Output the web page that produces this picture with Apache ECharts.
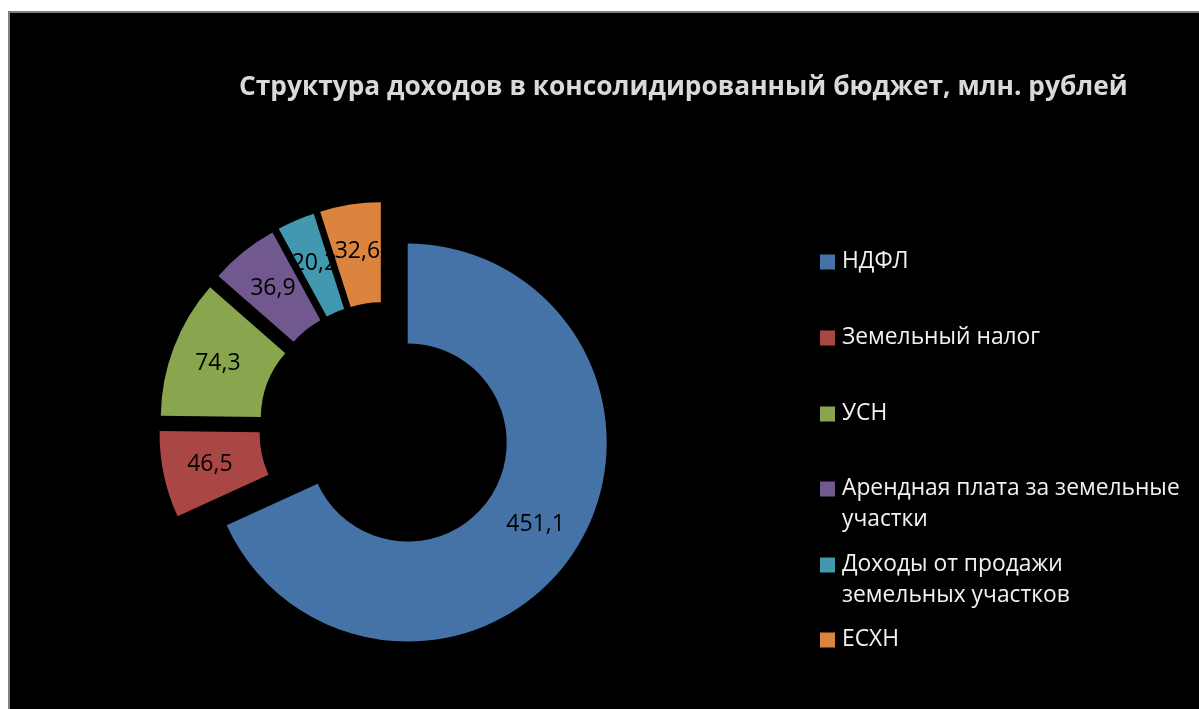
<!DOCTYPE html>
<html>
<head>
<meta charset="utf-8">
<script src="https://cdn.jsdelivr.net/npm/echarts@6/dist/echarts.min.js"></script>
<style>
  html, body { margin: 0; padding: 0; background: #ffffff; width: 1199px; height: 709px; overflow: hidden; }
  #frame { position: absolute; left: 8px; top: 11px; width: 1200px; height: 710px; border-left: 2px solid #808080; border-top: 2px solid #808080; background: #000; }
  #chart { position: absolute; left: 0; top: 0; width: 1189px; height: 696px; }
</style>
</head>
<body>
<div id="frame"><div id="chart"></div></div>
<script>
const titleText = 'Структура доходов в консолидированный бюджет, млн. рублей';
const categories = ['НДФЛ', 'Земельный налог', 'УСН', 'Арендная плата за земельные\nучастки', 'Доходы от продажи\nземельных участков', 'ЕСХН'];
const values = [451.1, 46.5, 74.3, 36.9, 20.2, 32.6];
const colors = ['#4572A7', '#AA4643', '#89A54E', '#71588F', '#4198AF', '#DB843D'];

const FONT = 'Open Sans';
const legendTops = [233.5, 309.5, 385.5, 460.5, 536.5, 611.5];

const legends = categories.map((name, i) => {
  const twoLine = name.indexOf('\n') >= 0;
  return {
    data: [name],
    left: 810,
    top: legendTops[i],
    padding: 0,
    orient: 'vertical',
    itemWidth: 15,
    itemHeight: twoLine ? 62 : 15,
    icon: twoLine ? 'path://M0,0M15,62M0,8L15,8L15,23L0,23Z' : 'rect',
    selectedMode: false,
    textStyle: { color: '#f2f2f2', fontFamily: FONT, fontSize: 22.8, lineHeight: 31, padding: [0, 0, 0, 2] }
  };
});

const chart = echarts.init(document.getElementById('chart'), null, { renderer: 'canvas' });
chart.setOption({
  backgroundColor: '#000000',
  animation: false,
  title: {
    text: titleText,
    left: 229,
    top: 58,
    padding: 0,
    textStyle: { color: '#d9d9d9', fontFamily: FONT, fontWeight: 'bold', fontSize: 26.3, lineHeight: 34 }
  },
  legend: legends,
  series: [{
    type: 'pie',
    center: [375, 415],
    radius: [99, 199],
    startAngle: 90,
    clockwise: true,
    selectedMode: 'multiple',
    selectedOffset: 27,
    avoidLabelOverlap: false,
    labelLayout: { hideOverlap: false },
    emphasis: { disabled: true },
    label: {
      show: true,
      position: 'inside',
      color: '#000',
      fontFamily: FONT,
      fontSize: 23,
      overflow: 'none',
      formatter: p => String(p.value).replace('.', ',')
    },
    labelLine: { show: false },
    itemStyle: { borderWidth: 0 },
    data: categories.map((name, i) => ({ name: name, value: values[i], selected: true, itemStyle: { color: colors[i] } }))
  }]
});
</script>
</body>
</html>
